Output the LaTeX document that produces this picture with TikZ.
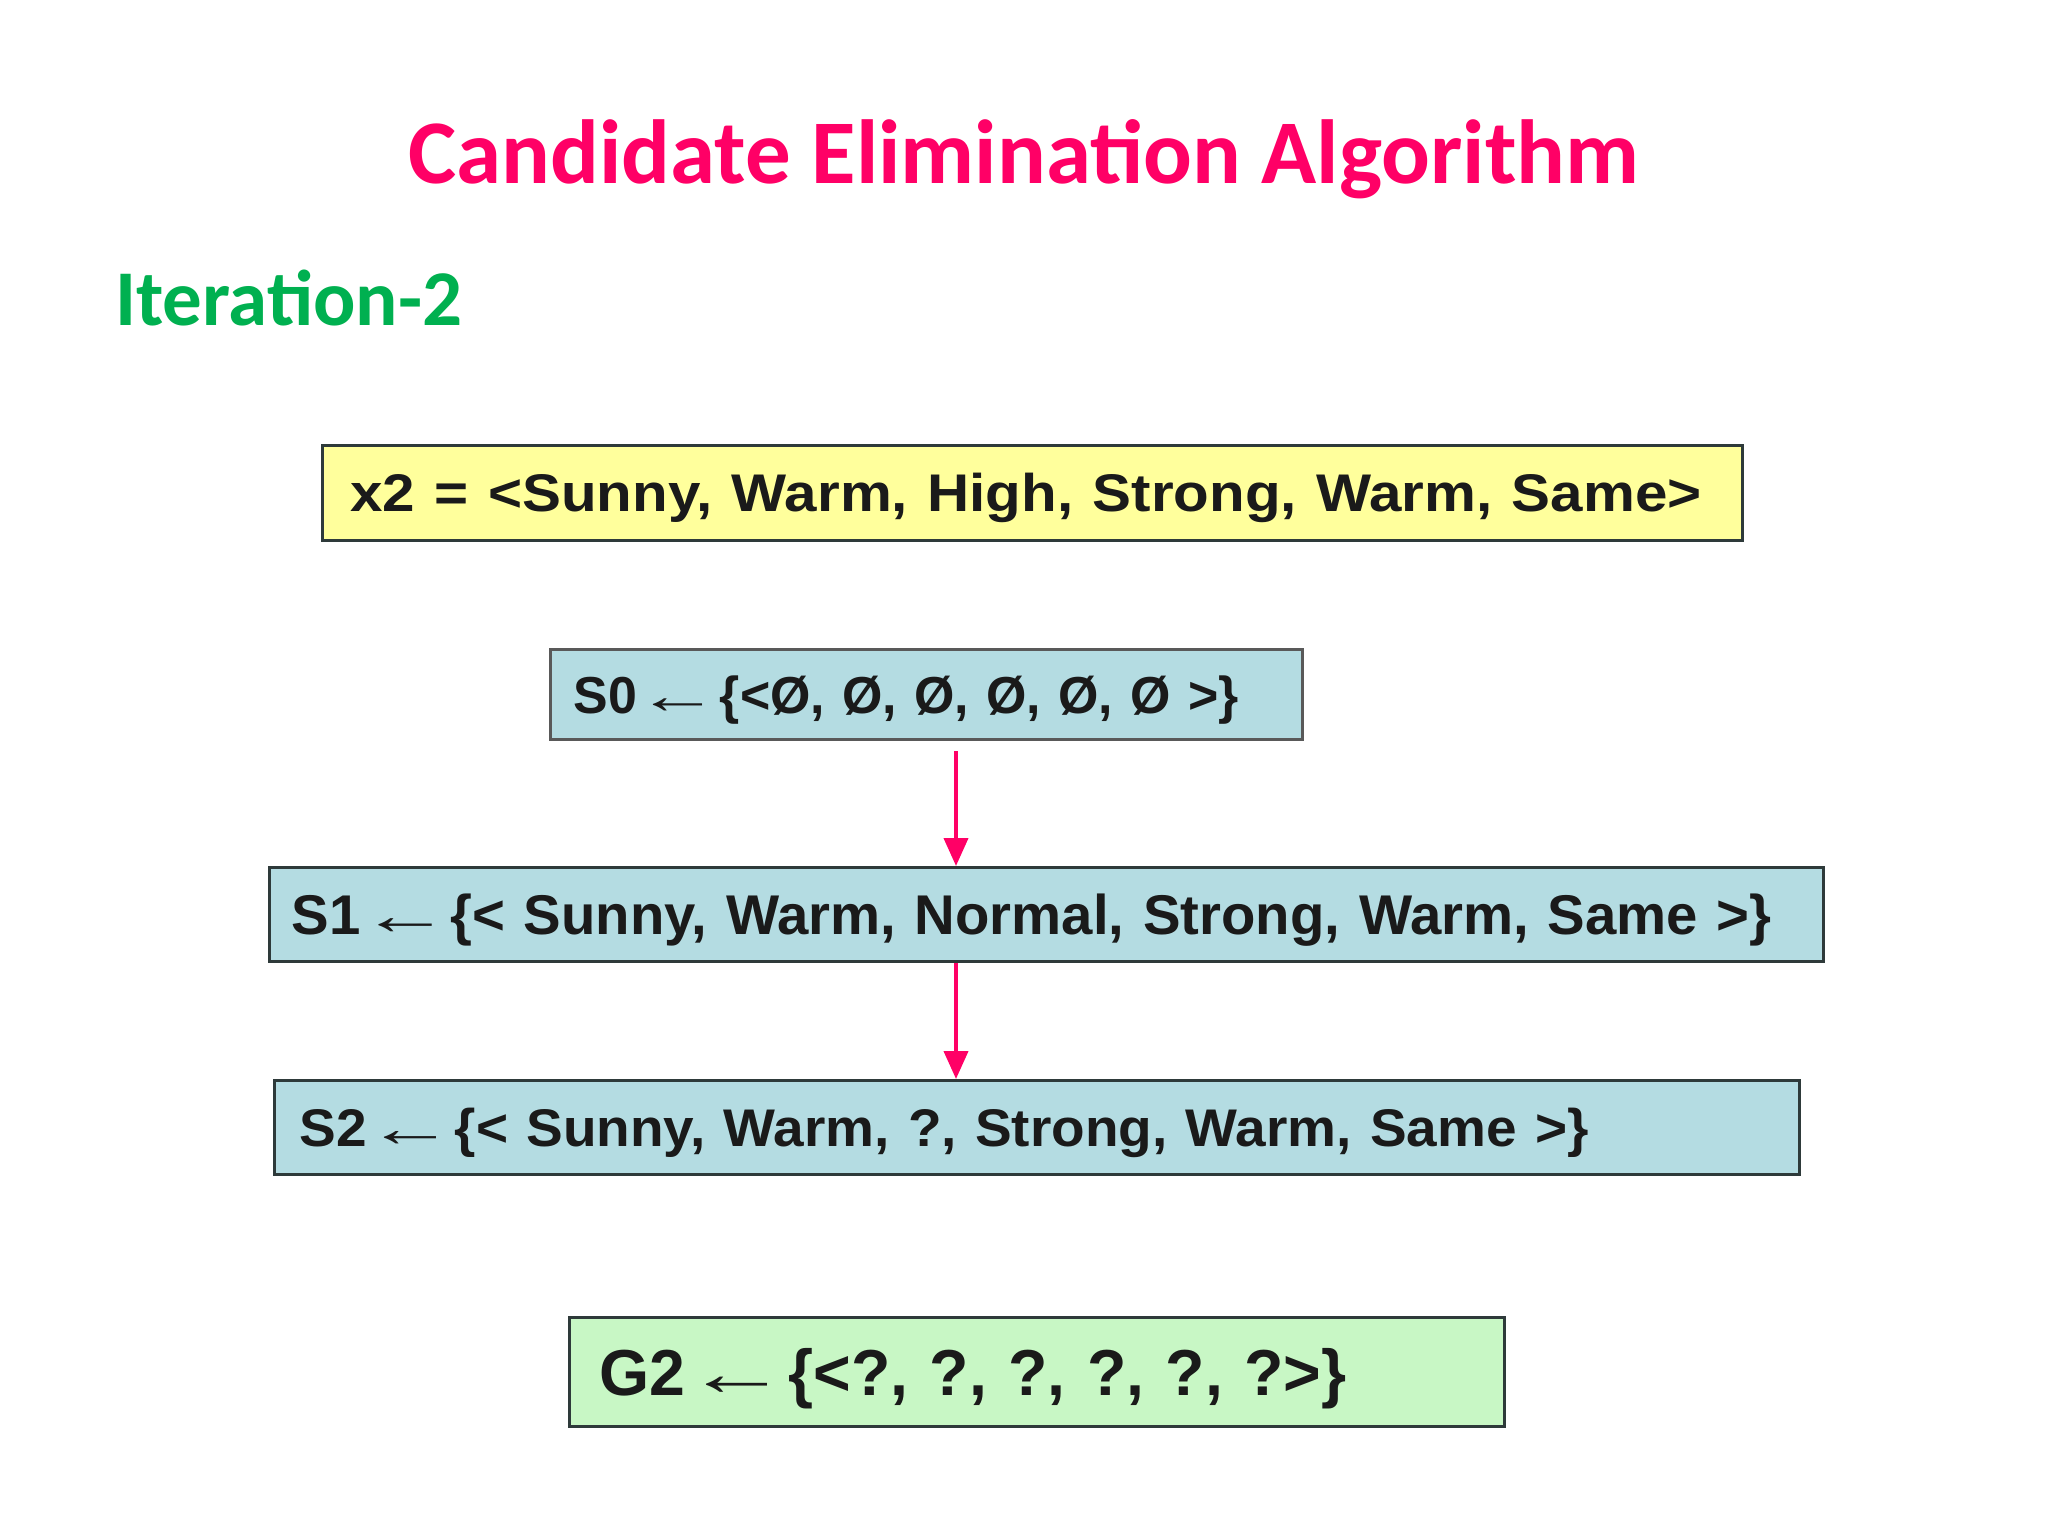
\documentclass[tikz,border=0pt]{standalone}
\usepackage{fontspec}
\usepackage{graphicx}
\setmainfont{Carlito}
\newfontfamily\boxfont{Liberation Sans}
\usetikzlibrary{arrows.meta}
\definecolor{titlepink}{HTML}{FF0066}
\definecolor{itergreen}{HTML}{00B050}
\definecolor{boxyellow}{HTML}{FFFF9C}
\definecolor{boxblue}{HTML}{B4DCE2}
\definecolor{boxgreen}{HTML}{C8F7C5}
\definecolor{boxedge}{HTML}{2E3A3A}
\definecolor{txt}{HTML}{1A1A1A}
\newcommand{\boxtext}[2]{\raisebox{0pt}[0.716em][0pt]{\resizebox{#1}{\height}{#2}}}
\newcommand{\larr}{\scalebox{1.6}[1]{←}}
\tikzset{
  setbox/.style={draw=boxedge, line width=3pt, anchor=north west, align=left, text=txt, inner ysep=0pt},
  flow/.style={draw=titlepink, line width=4pt, -{Triangle[length=28pt,width=24pt]}},
}
\begin{document}
\begin{tikzpicture}[x=1pt,y=-1pt]
\useasboundingbox[fill=white] (0,0) rectangle (2048,1536);
\node[anchor=base, text=titlepink, font=\fontsize{91}{91}\selectfont\bfseries] (title) at (1024,183) {Candidate Elimination Algorithm};
\node[anchor=base west, text=itergreen, font=\fontsize{79}{79}\selectfont\bfseries, inner xsep=0pt] (iter) at (115,325) {Iteration-2};
\node[setbox, fill=boxyellow, inner xsep=28pt, text width=1364pt, minimum height=95pt, font=\fontsize{53}{53}\selectfont\boxfont\bfseries] (x2) at (321,444) {\boxtext{1351pt}{x2 = <Sunny, Warm, High, Strong, Warm, Same>}};
\node[setbox, fill=boxblue, draw=gray!70!black, inner xsep=23pt, text width=706pt, minimum height=90pt, font=\fontsize{52}{52}\selectfont\boxfont\bfseries] (s0) at (549,648) {\boxtext{665pt}{S0\larr\{<Ø, Ø, Ø, Ø, Ø, Ø >\}}};
\node[setbox, fill=boxblue, inner xsep=22pt, text width=1510pt, minimum height=94pt, font=\fontsize{56}{56}\selectfont\boxfont\bfseries] (s1) at (268,866) {\boxtext{1480pt}{S1\larr\{< Sunny, Warm, Normal, Strong, Warm, Same >\}}};
\node[setbox, fill=boxblue, inner xsep=25pt, text width=1475pt, minimum height=94pt, font=\fontsize{53}{53}\selectfont\boxfont\bfseries] (s2) at (273,1079) {\boxtext{1289pt}{S2\larr\{< Sunny, Warm, ?, Strong, Warm, Same >\}}};
\node[setbox, fill=boxgreen, inner xsep=30pt, text width=875pt, minimum height=109pt, font=\fontsize{65}{65}\selectfont\boxfont\bfseries] (g2) at (568,1316) {\boxtext{747pt}{G2\larr\{<?, ?, ?, ?, ?, ?>\}}};
\coordinate (a1s) at (956,751);
\draw[flow] (a1s) -- (a1s |- s1.north);
\draw[flow] (a1s |- s1.south) -- (a1s |- s2.north);
\end{tikzpicture}
\end{document}
